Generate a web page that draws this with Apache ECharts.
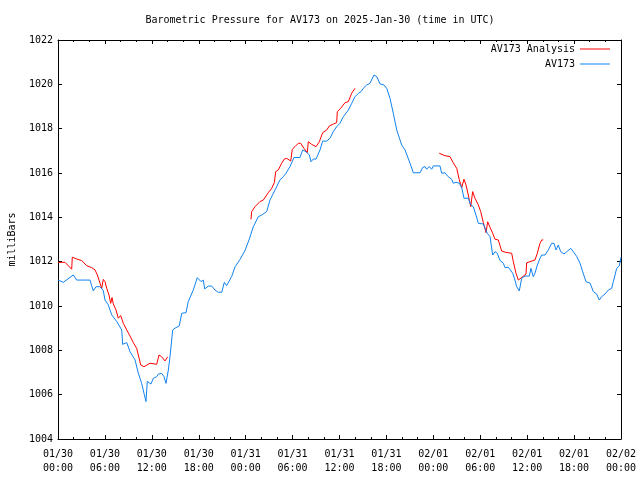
<!DOCTYPE html>
<html>
<head>
<meta charset="utf-8">
<script src="https://cdn.jsdelivr.net/npm/echarts@6/dist/echarts.min.js"></script>
<style>html,body{margin:0;padding:0;background:#fff}#c{width:640px;height:480px}</style>
</head>
<body>
<div id="c"></div>
<script>
// hours since 2025-01-30 00:00 UTC
const blueHours = [0,0.68,1.96,2.39,4.09,4.51,4.86,5.37,5.79,6.01,6.43,6.87,7.51,8.15,8.27,8.79,9.21,9.85,10.27,10.70,11.0,11.25,11.42,11.89,12.19,12.62,12.83,13.26,13.56,13.81,14.11,14.32,14.67,14.96,15.51,15.82,16.37,16.66,17.30,17.81,18.29,18.58,18.76,19.22,19.66,20.08,20.50,20.94,21.27,21.57,22.21,22.64,23.28,23.91,24.46,24.98,25.62,26.05,26.69,27.11,27.75,28.39,28.81,29.16,29.67,30.18,30.95,31.29,31.72,32.14,32.36,32.65,33.0,33.51,33.85,34.36,34.79,35.21,35.64,36.06,36.49,37.13,37.56,37.98,38.40,38.75,39.04,39.48,39.90,40.41,40.76,41.18,41.69,42.04,42.46,42.88,43.32,43.96,44.38,45.02,45.44,46.30,46.64,46.93,47.15,47.48,47.79,48.0,48.85,49.07,49.49,49.91,50.35,50.55,50.90,51.32,51.63,51.92,52.47,52.78,53.11,53.46,53.75,54.39,54.90,55.25,55.59,55.89,56.18,56.53,56.95,57.17,57.59,57.80,58.15,58.44,58.66,58.87,58.99,59.30,59.72,60.27,60.49,60.78,61.0,61.30,61.64,61.86,62.28,62.70,63.14,63.43,63.69,63.98,64.29,64.71,65.06,65.57,65.90,66.34,66.76,67.10,67.52,68.04,68.46,68.89,69.23,69.53,69.95,70.38,70.81,71.02,71.45,71.78,72.0];
const blueValues = [1011.17,1011.07,1011.4,1011.17,1011.17,1010.68,1010.87,1010.87,1010.7,1010.27,1010.05,1009.6,1009.3,1008.92,1008.27,1008.35,1007.94,1007.57,1006.97,1006.51,1006.06,1005.69,1006.6,1006.48,1006.74,1006.81,1006.93,1006.96,1006.81,1006.51,1007.11,1007.71,1008.92,1009.0,1009.1,1009.67,1009.7,1010.2,1010.72,1011.28,1011.1,1011.17,1010.77,1010.9,1010.9,1010.72,1010.62,1010.62,1011.07,1010.92,1011.33,1011.77,1012.1,1012.5,1013.01,1013.58,1014.03,1014.1,1014.26,1014.78,1015.23,1015.69,1015.83,1015.99,1016.29,1016.7,1016.7,1017.04,1016.96,1016.81,1016.51,1016.63,1016.63,1017.04,1017.44,1017.44,1017.57,1017.87,1018.09,1018.24,1018.54,1018.84,1019.14,1019.44,1019.59,1019.67,1019.82,1019.97,1020.05,1020.42,1020.35,1020.02,1019.97,1019.82,1019.37,1018.69,1017.94,1017.26,1017.04,1016.44,1016.01,1016.01,1016.25,1016.29,1016.17,1016.29,1016.17,1016.32,1016.32,1015.99,1016.01,1015.83,1015.72,1015.54,1015.58,1015.54,1015.34,1014.86,1014.86,1014.56,1014.48,1014.1,1013.73,1013.7,1013.28,1013.13,1012.3,1012.45,1012.38,1012.05,1011.93,1011.73,1011.75,1011.81,1011.48,1011.17,1010.87,1010.95,1010.68,1011.25,1011.35,1011.35,1011.7,1011.32,1011.48,1011.85,1012.15,1012.3,1012.3,1012.53,1012.83,1012.83,1012.53,1012.75,1012.45,1012.35,1012.45,1012.6,1012.45,1012.23,1011.93,1011.55,1011.1,1011.03,1010.65,1010.54,1010.27,1010.42,1010.54,1010.72,1010.8,1011.1,1011.7,1011.81,1012.2];

const redHours1 = [0,0.90,1.75,1.83,2.39,3.03,3.67,4.31,4.73,5.03,5.37,5.59,5.79,6.01,6.23,6.52,6.74,6.91,7.07,7.42,7.71,8.02,8.35,8.79,9.21,9.63,10.06,10.27,10.58,11.0,11.77,12.62,12.92,13.26,13.68,14.03];
const redValues1 = [1011.97,1011.97,1011.66,1012.2,1012.12,1012.05,1011.82,1011.73,1011.63,1011.4,1011.03,1010.8,1011.2,1011.1,1010.8,1010.5,1010.12,1010.38,1010.09,1009.82,1009.45,1009.57,1009.22,1008.92,1008.65,1008.35,1008.09,1007.79,1007.34,1007.26,1007.42,1007.37,1007.79,1007.71,1007.52,1007.71];
const redHours2 = [24.68,24.77,25.19,25.83,26.26,26.89,27.33,27.66,27.84,28.17,28.61,28.94,29.25,29.76,29.96,30.31,30.73,31.04,31.46,31.88,32.01,32.44,33.0,33.42,33.85,34.36,34.70,35.21,35.64,35.72,36.15,36.70,37.13,37.56,37.98];
const redValues2 = [1013.91,1014.26,1014.48,1014.71,1014.78,1015.11,1015.31,1015.56,1016.06,1016.14,1016.44,1016.63,1016.66,1016.54,1017.07,1017.19,1017.34,1017.34,1017.11,1016.92,1017.41,1017.29,1017.19,1017.41,1017.82,1017.94,1018.12,1018.21,1018.27,1018.77,1018.92,1019.17,1019.22,1019.6,1019.82];
const redHours3 = [48.76,49.49,50.13,50.55,50.99,51.32,51.63,51.92,52.18,52.47,52.78,53.03,53.33,53.75,54.06,54.39,54.74,54.95,55.25,55.59,55.89,56.31,56.74,57.29,58.02,58.23,58.57,58.87,59.30,59.85,59.94,60.36,61.0,61.30,61.64,61.86,62.06];
const redValues3 = [1016.89,1016.78,1016.74,1016.46,1016.21,1015.69,1015.34,1015.72,1015.46,1015.01,1014.48,1015.16,1014.86,1014.56,1014.26,1013.76,1013.31,1013.8,1013.55,1013.28,1013.01,1012.98,1012.48,1012.42,1012.38,1012.0,1011.48,1011.17,1011.29,1011.44,1011.95,1012.0,1012.08,1012.38,1012.83,1012.98,1012.98];

const xTickLabels = ['01/30\n00:00','01/30\n06:00','01/30\n12:00','01/30\n18:00','01/31\n00:00','01/31\n06:00','01/31\n12:00','01/31\n18:00','02/01\n00:00','02/01\n06:00','02/01\n12:00','02/01\n18:00','02/02\n00:00'];

const titleText = 'Barometric Pressure for AV173 on 2025-Jan-30 (time in UTC)';
const seriesNames = ['AV173 Analysis', 'AV173'];

function pairs(h, v) { return h.map((x, i) => [x, v[i]]); }
const redData = pairs(redHours1, redValues1)
  .concat([['-', '-']], pairs(redHours2, redValues2))
  .concat([['-', '-']], pairs(redHours3, redValues3));
const blueData = pairs(blueHours, blueValues);

const FONT = 'DejaVu Sans Mono';
const txt = { fontFamily: FONT, fontSize: 10, color: '#000' };
const RED = '#ff0000', BLUE = '#0f82f0';

const chart = echarts.init(document.getElementById('c'), null, { renderer: 'canvas' });
const xBase = {
  type: 'value', min: 0, max: 72, interval: 6,
  axisLine: { show: true, onZero: false, lineStyle: { color: '#000', width: 1 } },
  axisTick: { show: true, inside: true, length: 4, lineStyle: { color: '#000' } },
  minorTick: { show: true, splitNumber: 3, length: 2, lineStyle: { color: '#000' } },
  splitLine: { show: false }
};
const yBase = {
  type: 'value', min: 1004, max: 1022, interval: 2,
  axisLine: { show: true, onZero: false, lineStyle: { color: '#000', width: 1 } },
  axisTick: { show: true, inside: true, length: 4, lineStyle: { color: '#000' } },
  splitLine: { show: false }
};
chart.setOption({
  animation: false,
  backgroundColor: '#fff',
  title: { text: titleText, left: 'center', top: 10, textStyle: Object.assign({ fontWeight: 'normal' }, txt) },
  grid: { left: 58, right: 19, top: 40, bottom: 41, containLabel: false, outerBoundsMode: 'none' },
  legend: [
    { data: [seriesNames[0]], right: 30, top: 44, orient: 'vertical', align: 'right', itemWidth: 30, itemHeight: 8, itemGap: 4, textStyle: txt, icon: 'path://M0,4L30,4L30,5L0,5Z', padding: 0 },
    { data: [seriesNames[1]], right: 30, top: 59, orient: 'vertical', align: 'right', itemWidth: 30, itemHeight: 8, itemGap: 4, textStyle: txt, icon: 'path://M0,4L30,4L30,5L0,5Z', padding: 0 }
  ],
  xAxis: [
    Object.assign({}, xBase, { position: 'bottom',
      axisLabel: Object.assign({ margin: 8, lineHeight: 14, formatter: (v) => xTickLabels[Math.round(v / 6)] }, txt) }),
    Object.assign({}, xBase, { position: 'top', axisLabel: { show: false } })
  ],
  yAxis: [
    Object.assign({}, yBase, { position: 'left', name: 'milliBars', nameLocation: 'middle', nameGap: 41, nameRotate: 90,
      nameTextStyle: txt, axisLabel: Object.assign({ margin: 5, formatter: (v) => String(v) }, txt) }),
    Object.assign({}, yBase, { position: 'right', axisLabel: { show: false } })
  ],
  series: [
    { name: seriesNames[0], type: 'line', data: redData, showSymbol: false, symbol: 'none', connectNulls: false,
      lineStyle: { color: RED, width: 1 }, itemStyle: { color: RED }, xAxisIndex: 0, yAxisIndex: 0 },
    { name: seriesNames[1], type: 'line', data: blueData, showSymbol: false, symbol: 'none',
      lineStyle: { color: BLUE, width: 1 }, itemStyle: { color: BLUE }, xAxisIndex: 0, yAxisIndex: 0 }
  ]
});
</script>
</body>
</html>
